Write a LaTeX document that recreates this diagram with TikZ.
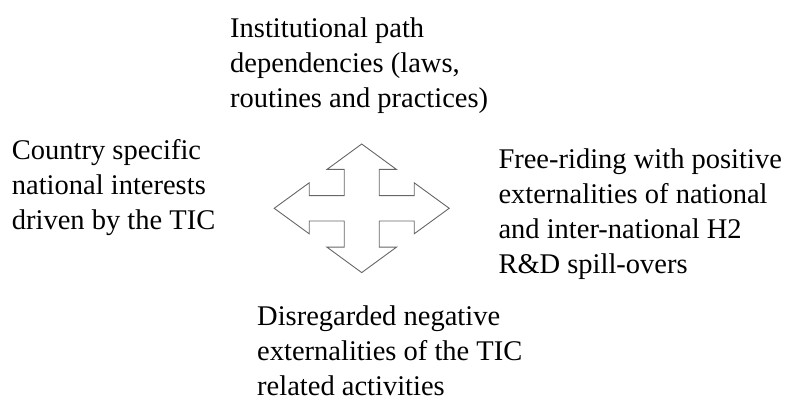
\documentclass[tikz,border=0pt]{standalone}
\usepackage{fontspec}
\setmainfont{Liberation Serif}
\usetikzlibrary{positioning,calc}

\begin{document}
\begin{tikzpicture}[x=1pt, y=-1pt,
                    txt/.style={anchor=north west, inner sep=0pt, align=left, font=\fontsize{28.5}{35}\selectfont}]
                    \useasboundingbox (0,0) rectangle (792,403);
                    \coordinate (hub) at (361.7,208.3);
                    \draw[black!60, line width=0.9pt, line join=miter]
                        ($(hub)+(0,-64.3)$) -- ++(34.7,25.4) -- ++(-17.2,0) -- ++(0,26.2) -- ++(35,0) -- ++(0,-12.8)
                        -- ++(35,25.5) -- ++(-35,25.5) -- ++(0,-12.8) -- ++(-35,0) -- ++(0,26.2) -- ++(17.2,0)
                        -- ++(-34.7,25.4) -- ++(-34.7,-25.4) -- ++(17.2,0) -- ++(0,-26.2) -- ++(-35,0) -- ++(0,12.8)
                        -- ++(-35,-25.5) -- ++(35,-25.5) -- ++(0,12.8) -- ++(35,0) -- ++(0,-26.2) -- ++(-17.2,0) -- cycle;
                    \node[txt] (inst) at (230,18) {Institutional path\\dependencies (laws,\\routines and practices)};
                    \node[txt] (country) at (11.7,138.8) {Country specific\\national interests\\driven by the TIC};
                    \node[txt] (freeride) at (498.3,148.8) {Free-riding with positive\\externalities of national\\and inter-national H2\\R\&D spill-overs};
                    \node[txt] (disreg) at (257,305.5) {Disregarded negative\\externalities of the TIC\\related activities};
                \end{tikzpicture}
\end{document}
